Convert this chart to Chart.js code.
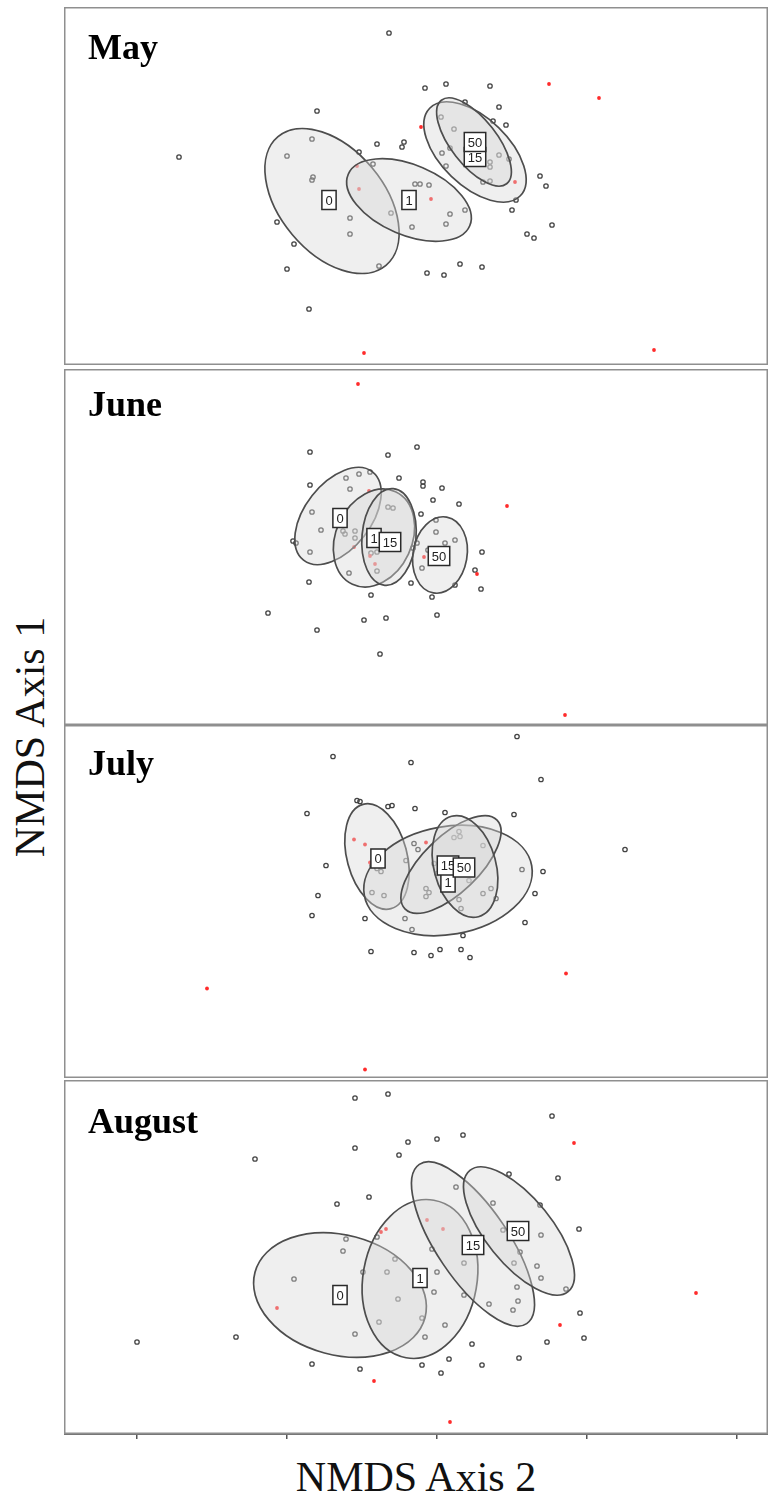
<!DOCTYPE html>
<html>
<head>
<meta charset="utf-8">
<script src="https://cdn.jsdelivr.net/npm/chart.js"></script>
<style>
  body { margin: 0; background: #fff; }
  #wrap { position: relative; width: 769px; height: 1500px; overflow: hidden; }
  #wrap canvas { position: absolute; left: 64px; }
  .axisTitle {
    position: absolute;
    font-family: "Liberation Serif", "Times New Roman", serif;
    font-size: 42px;
    line-height: 42px;
    color: #111;
    white-space: nowrap;
    text-align: center;
  }
  #xTitle { left: 64px; width: 704px; top: 1456px; }
  #yTitle { left: -170px; width: 400px; top: 716px; transform: rotate(-90deg); }
</style>
</head>
<body>
<div id="wrap">
  <canvas id="c0" width="704" height="358" style="top:7px"></canvas>
  <canvas id="c1" width="704" height="356" style="top:369px"></canvas>
  <canvas id="c2" width="704" height="353" style="top:725px"></canvas>
  <canvas id="c3" width="704" height="359" style="top:1080px"></canvas>
  <div id="yTitle" class="axisTitle">NMDS Axis 1</div>
  <div id="xTitle" class="axisTitle">NMDS Axis 2</div>
</div>
<script>
// panel names and group labels
const months = ['May', 'June', 'July', 'August'];
const groups = ['0', '1', '15', '50'];
const xTicks = [-3, -1.5, 0, 1.5, 3];

// site scores, [axis 2, axis 1]
const mayPts = [[-0.48,1.53],[-0.12,0.98],[0.09,1.02],[0.53,1.00],[0.62,0.79],[0.56,0.65],[0.69,0.61],[0.28,0.84],
  [0.04,0.69],[0.17,0.57],[-1.20,0.75],[-2.58,0.29],[-0.60,0.42],[-0.35,0.39],[-0.33,0.44],[-0.78,0.34],[-1.25,0.47],
  [-1.50,0.30],[-1.24,0.09],[-1.25,0.06],[-0.64,0.22],[-0.22,0.02],[-0.17,0.02],[-0.08,0.01],[0.05,0.33],[0.13,0.38],
  [0.09,0.20],[0.62,0.31],[0.53,0.24],[0.53,0.19],[0.72,0.27],[0.46,0.04],[0.53,0.05],[1.03,0.10],[1.09,0.00],
  [0.79,-0.14],[0.75,-0.24],[1.15,-0.39],[0.90,-0.48],[0.97,-0.52],[0.28,-0.24],[0.13,-0.28],[0.09,-0.38],[-0.25,-0.41],
  [-0.46,-0.27],[-0.87,-0.32],[-0.87,-0.48],[-1.60,-0.36],[-1.43,-0.58],[-1.50,-0.83],[-0.58,-0.80],[-0.10,-0.87],
  [0.07,-0.89],[0.23,-0.78],[0.45,-0.81],[-1.28,-1.23]];
const junePts = [[-1.27,0.95],[-0.49,0.92],[-0.20,1.00],[-1.27,0.62],[-0.91,0.69],[-0.78,0.73],[-0.67,0.75],[-0.38,0.69],
  [-0.14,0.65],[-0.14,0.61],[0.05,0.59],[-0.04,0.47],[0.22,0.43],[-0.87,0.58],[-1.25,0.35],[-1.16,0.17],[-0.94,0.16],
  [-0.92,0.13],[-0.82,0.16],[-0.82,0.09],[-1.44,0.06],[-1.41,0.04],[-1.27,-0.05],[-0.49,0.40],[-0.44,0.39],[-0.16,0.33],
  [-0.60,-0.05],[-0.66,-0.06],[-0.24,-0.01],[-0.20,0.04],[-0.01,0.15],[-0.01,0.27],[0.08,0.04],[0.18,0.07],[-0.09,-0.03],
  [-0.15,-0.21],[-0.88,-0.26],[-0.60,-0.24],[0.45,-0.05],[0.38,-0.23],[0.44,-0.42],[0.18,-0.38],[-0.26,-0.36],
  [-1.28,-0.35],[-0.66,-0.48],[-0.05,-0.50],[-1.69,-0.66],[-0.73,-0.73],[-0.51,-0.71],[0.00,-0.68],[-1.20,-0.83],
  [-0.57,-1.07]];
const julyPts = [[0.80,1.65],[-1.04,1.45],[-0.26,1.39],[1.04,1.22],[-0.80,1.01],[-0.77,1.00],[-0.49,0.95],[-0.45,0.96],
  [-0.22,0.93],[0.08,0.89],[0.77,0.87],[-1.30,0.88],[1.88,0.52],[-1.11,0.36],[1.06,0.30],[-1.19,0.06],[0.98,0.08],
  [-1.25,-0.14],[-0.72,-0.17],[0.88,-0.21],[0.26,-0.34],[-0.25,-0.28],[-0.66,-0.50],[-0.23,-0.51],[-0.06,-0.54],
  [0.03,-0.48],[0.24,-0.48],[0.33,-0.56],[-0.23,0.58],[-0.19,0.52],[-0.65,0.36],[-0.60,0.33],[-0.56,0.30],[-0.31,0.41],
  [0.22,0.70],[0.17,0.64],[0.23,0.65],[0.46,0.56],[0.85,0.32],[0.32,0.21],[0.46,0.08],[0.54,0.13],[0.59,0.03],
  [-0.11,0.13],[-0.08,0.09],[-0.11,0.05],[-0.65,0.09],[-0.53,0.06],[0.22,0.02],[0.24,-0.07],[-0.32,-0.17],
  [-0.03,0.38],[0.00,0.28]];
const augPts = [[-0.82,1.59],[-0.49,1.63],[1.15,1.41],[-1.82,0.98],[-0.82,1.09],[-0.38,1.02],[-0.29,1.15],[0.00,1.18],
  [0.26,1.22],[0.72,0.83],[1.21,0.79],[-1.00,0.53],[-0.68,0.60],[1.03,0.52],[1.42,0.28],[-3.00,-0.85],[-2.01,-0.80],
  [1.43,-0.56],[1.47,-0.81],[1.10,-0.85],[0.82,-1.01],[0.35,-0.87],[0.45,-1.08],[0.12,-1.02],[-0.15,-1.08],[0.04,-1.16],
  [-1.25,-1.07],[-0.77,-1.12],[0.19,0.70],[0.56,0.54],[-0.60,0.20],[-0.91,0.18],[-0.94,0.06],[-0.05,0.08],[-0.42,-0.02],
  [-0.74,-0.15],[-0.50,-0.15],[0.00,-0.15],[0.27,-0.06],[0.77,-0.06],[0.83,0.05],[0.66,0.27],[1.04,0.22],[1.00,-0.09],
  [1.04,-0.21],[0.80,-0.30],[0.81,-0.44],[0.76,-0.53],[0.52,-0.47],[0.27,-0.38],[-0.03,-0.35],[-0.39,-0.42],
  [-1.43,-0.22],[-0.82,-0.77],[-0.58,-0.65],[-0.12,-0.80],[0.08,-0.68],[-0.15,-0.61],[1.29,-0.32]];

// species scores (red)
const mayRed = [[1.12,1.02],[1.62,0.88],[-0.16,0.59],[-0.80,0.20],[-0.78,-0.03],[-0.06,-0.13],[0.78,0.04],[-0.73,-1.67],[2.17,-1.64]];
const juneRed = [[-0.79,1.63],[0.70,0.41],[0.40,-0.27],[1.28,-1.68],[-0.68,0.56],[-0.83,0.00],[-0.13,-0.10],[-0.62,-0.17],[-0.67,-0.09]];
const julyRed = [[-2.30,-0.87],[-0.72,-1.68],[1.29,-0.72],[-0.83,0.62],[-0.72,0.57],[-0.11,0.59],[-0.67,0.39]];
const augRed = [[1.37,1.14],[2.59,-0.36],[1.23,-0.68],[-0.63,-1.24],[0.13,-1.65],[-1.60,-0.51],[-0.56,0.25],[-0.51,0.28],[-0.10,0.37],[0.06,0.28]];

// group ellipses: [centre x, centre y, semi-major, semi-minor, angle deg], order as groups
const mayEll = [[-1.05,-0.15,0.84,0.52,-50],[-0.28,-0.14,0.66,0.35,-23],[0.38,0.34,0.63,0.34,-44],[0.37,0.44,0.53,0.23,-52]];
const juneEll = [[-0.99,0.31,0.56,0.33,52],[-0.63,0.09,0.51,0.38,65],[-0.48,0.10,0.485,0.27,85],[0.03,-0.08,0.385,0.27,80]];
const julyEll = [[-0.60,0.45,0.54,0.30,-75],[0.11,0.21,0.85,0.54,10],[0.14,0.37,0.64,0.28,44],[0.28,0.35,0.52,0.31,-75]];
const augEll = [[-0.97,-0.38,0.88,0.60,-15],[-0.17,-0.22,0.80,0.57,80],[0.36,0.13,0.96,0.36,-56],[0.82,0.26,0.78,0.33,-51]];

// group label positions
const mayLab = [[-1.08,-0.14],[-0.28,-0.14],[0.38,0.29],[0.38,0.44]];
const juneLab = [[-0.97,0.29],[-0.63,0.09],[-0.47,0.05],[0.02,-0.09]];
const julyLab = [[-0.59,0.43],[0.11,0.19],[0.11,0.36],[0.27,0.34]];
const augLab = [[-0.97,-0.38],[-0.17,-0.21],[0.36,0.12],[0.81,0.26]];

const panelPlugin = {
  id: 'panel',
  afterDatasetsDraw(chart, args, opts) {
    const ctx = chart.ctx;
    const a = chart.chartArea;
    const x = chart.scales.x, y = chart.scales.y;
    const k = x.getPixelForValue(1) - x.getPixelForValue(0);

    ctx.save();
    ctx.beginPath();
    ctx.rect(a.left, a.top, a.right - a.left, a.bottom - a.top);
    ctx.clip();
    opts.ellipses.forEach(e => {
      ctx.beginPath();
      ctx.ellipse(x.getPixelForValue(e[0]), y.getPixelForValue(e[1]), e[2] * k, e[3] * k,
        -e[4] * Math.PI / 180, 0, Math.PI * 2);
      ctx.fillStyle = 'rgba(215,215,215,0.4)';
      ctx.fill();
      ctx.lineWidth = 1.7;
      ctx.strokeStyle = '#4d4d4d';
      ctx.stroke();
    });
    ctx.font = '13px "Liberation Sans", Arial, sans-serif';
    ctx.textAlign = 'center';
    ctx.textBaseline = 'middle';
    opts.labels.forEach((p, i) => {
      const px = x.getPixelForValue(p[0]), py = y.getPixelForValue(p[1]);
      const w = ctx.measureText(groups[i]).width + 7, h = 19;
      ctx.fillStyle = '#fff';
      ctx.fillRect(px - w / 2, py - h / 2, w, h);
      ctx.strokeStyle = '#2a2a2a';
      ctx.lineWidth = 1.5;
      ctx.strokeRect(px - w / 2, py - h / 2, w, h);
      ctx.fillStyle = '#222';
      ctx.fillText(groups[i], px, py + 1);
    });
    ctx.restore();

    ctx.save();
    ctx.font = 'bold 36px "Liberation Serif", "Times New Roman", serif';
    ctx.fillStyle = '#000';
    ctx.textAlign = 'left';
    ctx.textBaseline = 'alphabetic';
    ctx.fillText(opts.title, a.left + 24, a.top + opts.titleY);
    ctx.strokeStyle = '#8f8f8f';
    ctx.lineWidth = 1.5;
    ctx.strokeRect(a.left + 0.75, a.top + 0.75, a.right - a.left - 1.5, a.bottom - a.top - 1.5);
    ctx.restore();
  }
};

function toXY(arr) {
  return arr.map(p => ({ x: p[0], y: p[1] }));
}

function makePanel(id, title, titleY, pts, red, ell, lab, yHalf, showAxis) {
  new Chart(document.getElementById(id), {
    type: 'scatter',
    data: {
      datasets: [
        {
          data: toXY(red),
          pointRadius: 1.9,
          pointBorderWidth: 0,
          pointBackgroundColor: '#ff2b2b'
        },
        {
          data: toXY(pts),
          pointRadius: 2.2,
          pointBorderWidth: 1.3,
          pointBorderColor: '#444',
          pointBackgroundColor: 'rgba(0,0,0,0)'
        }
      ]
    },
    options: {
      responsive: false,
      animation: false,
      devicePixelRatio: 1,
      layout: { padding: 0, autoPadding: false },
      plugins: {
        legend: { display: false },
        tooltip: { enabled: false },
        panel: { title: title, titleY: titleY, ellipses: ell, labels: lab }
      },
      scales: {
        x: {
          type: 'linear', min: -3.73, max: 3.31,
          display: showAxis,
          afterBuildTicks: s => { s.ticks = xTicks.map(v => ({ value: v })); },
          ticks: { display: false },
          grid: { drawOnChartArea: false, drawTicks: true, tickLength: 5, color: '#555', lineWidth: 1.5 },
          border: { display: true, color: '#777', width: 2 }
        },
        y: { type: 'linear', min: -yHalf, max: yHalf, display: false }
      }
    },
    plugins: [panelPlugin]
  });
}

makePanel('c0', months[0], 52, mayPts, mayRed, mayEll, mayLab, 1.79, false);
makePanel('c1', months[1], 47, junePts, juneRed, juneEll, juneLab, 1.78, false);
makePanel('c2', months[2], 50, julyPts, julyRed, julyEll, julyLab, 1.765, false);
makePanel('c3', months[3], 53, augPts, augRed, augEll, augLab, 1.77, true);
</script>
</body>
</html>
